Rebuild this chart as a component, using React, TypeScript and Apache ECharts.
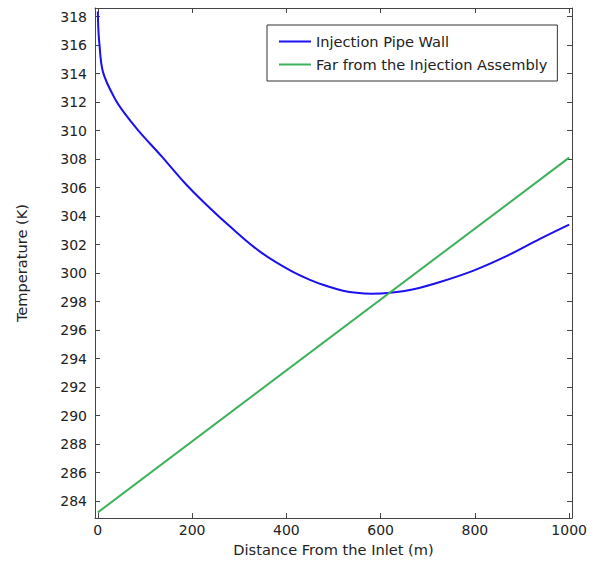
import React, { useEffect, useRef } from "react";
import * as echarts from "echarts";

const pipeX = [0, 1, 3, 11, 36, 57, 86, 135, 185, 227, 280, 344, 408, 450, 489, 520, 549, 580, 620, 670, 726, 797, 868, 938, 1000];
const pipeT = [318.35, 317.2, 316.2, 314.1, 312.25, 311.2, 310.0, 308.2, 306.3, 304.9, 303.28, 301.5, 300.18, 299.52, 299.05, 298.76, 298.61, 298.55, 298.61, 298.86, 299.37, 300.17, 301.2, 302.4, 303.4];
const farX = [0, 1000];
const farT = [283.2, 308.1];
const seriesNames = ["Injection Pipe Wall", "Far from the Injection Assembly"];
const xTitle = "Distance From the Inlet (m)";
const yTitle = "Temperature (K)";

const FONT = "DejaVu Sans";
const TXT = "#222";
const AX = "#444";

export default function App() {
  const ref = useRef<HTMLDivElement>(null);
  useEffect(() => {
    const chart = echarts.init(ref.current!, null, { renderer: "svg" });
    const xMin = -6, xMax = 1006, yMin = 282.8, yMax = 318.6;
    const commonX = {
      type: "value" as const,
      min: xMin,
      max: xMax,
      splitNumber: 5,
      splitLine: { show: false },
      axisLine: { show: true, onZero: false, lineStyle: { color: AX, width: 1 } },
      axisTick: { show: true, inside: true, length: 5, lineStyle: { color: AX } },
    };
    const commonY = {
      type: "value" as const,
      min: yMin,
      max: yMax,
      splitNumber: 18,
      splitLine: { show: false },
      axisLine: { show: true, onZero: false, lineStyle: { color: AX, width: 1 } },
      axisTick: { show: true, inside: true, length: 5, lineStyle: { color: AX } },
    };
    chart.setOption({
      animation: false,
      backgroundColor: "#fff",
      textStyle: { fontFamily: FONT },
      grid: { left: 95, right: 26, top: 8, bottom: 35, containLabel: false },
      legend: {
        orient: "vertical",
        left: 267,
        top: 25,
        padding: [9, 10, 9, 11],
        itemWidth: 32,
        itemHeight: 14,
        itemGap: 8,
        borderColor: "#333",
        borderWidth: 1,
        backgroundColor: "#fff",
        itemStyle: { color: "transparent", borderWidth: 0, opacity: 0 },
        textStyle: { fontFamily: FONT, fontSize: 14.6, color: TXT },
        data: seriesNames,
      },
      xAxis: [
        {
          ...commonX,
          position: "bottom",
          name: xTitle,
          nameLocation: "middle",
          nameGap: 19,
          nameTextStyle: { fontFamily: FONT, fontSize: 14.6, color: TXT },
          axisLabel: {
            show: true, margin: 5, fontFamily: FONT, fontSize: 14, color: TXT,
            showMinLabel: false, showMaxLabel: false,
            formatter: (v: number) => String(v),
          },
        },
        { ...commonX, position: "top", axisLabel: { show: false } },
      ],
      yAxis: [
        {
          ...commonY,
          position: "left",
          name: yTitle,
          nameLocation: "middle",
          nameGap: 66,
          nameTextStyle: { fontFamily: FONT, fontSize: 14.6, color: TXT },
          axisLabel: { show: true, margin: 8, fontFamily: FONT, fontSize: 14, color: TXT, showMinLabel: false, showMaxLabel: false },
        },
        { ...commonY, position: "right", axisLabel: { show: false } },
      ],
      series: [
        {
          name: seriesNames[0],
          type: "line",
          xAxisIndex: 0,
          yAxisIndex: 0,
          symbol: "none",
          smooth: 0.35,
          lineStyle: { color: "#1a10f0", width: 2 },
          itemStyle: { color: "#1a10f0" },
          data: pipeX.map((x, i) => [x, pipeT[i]]),
        },
        {
          name: seriesNames[1],
          type: "line",
          xAxisIndex: 0,
          yAxisIndex: 0,
          symbol: "none",
          lineStyle: { color: "#3cb05a", width: 2 },
          itemStyle: { color: "#3cb05a" },
          data: farX.map((x, i) => [x, farT[i]]),
        },
      ],
    });
    return () => chart.dispose();
  }, []);
  return <div ref={ref} style={{ position: "fixed", left: 0, top: 0, width: 598, height: 562 }} />;
}
